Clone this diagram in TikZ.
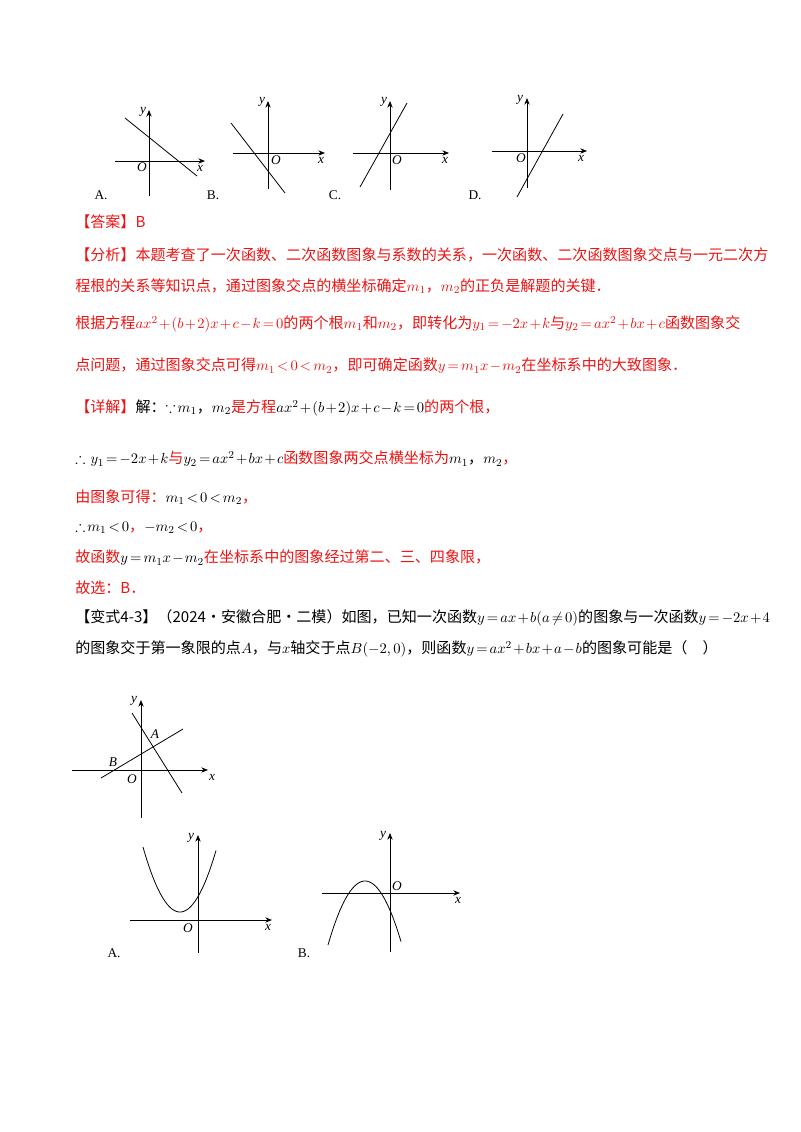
\documentclass[tikz,border=0pt]{standalone}
\usetikzlibrary{arrows.meta}
\usepackage{amssymb}
\usepackage{fontspec}
\setmainfont{Noto Sans CJK SC}
\newfontfamily\lat{Liberation Serif}
\definecolor{rd}{RGB}{235,20,20}
\newcommand{\K}[1]{{\color{black}#1}}
\medmuskip=1.5mu plus 1mu
\thickmuskip=2.5mu plus 1mu
\begin{document}
\begin{tikzpicture}[x=0.75pt,y=-0.75pt,
  ln/.style={anchor=west,inner sep=0,font=\fontsize{11.3}{14}\selectfont},
  rl/.style={ln,text=rd},
  ax/.style={line width=0.6pt,-{Stealth[length=5pt,width=4pt]}},
  cv/.style={line width=0.6pt},
  lb/.style={inner sep=0,font=\fontsize{10}{11}\selectfont\lat\itshape},
  ch/.style={inner sep=0,font=\fontsize{10}{12}\selectfont\lat}]
\useasboundingbox (0,0) rectangle (800,1132);
% top graphs
\foreach \n/\ox/\oy/\xa/\xb/\ya/\yb in {A/149/161/115/205/110/196,B/268/153/233/325/101/189,C/390/153/353/449/101/190,D/527/151/492/587/98/188}{
  \draw[ax] (\xa,\oy) -- (\xb,\oy);
  \draw[ax] (\ox,\yb) -- (\ox,\ya);
}
\draw[cv] (125,118) -- (197,176);
\draw[cv] (231,123) -- (285,193);
\draw[cv] (360,187) -- (407,103);
\draw[cv] (517,197) -- (563,114);
\node[lb] at (142,167) {O}; \node[lb] at (200,168) {x}; \node[lb] at (143,112) {y};
\node[lb] at (276,160) {O}; \node[lb] at (321,160) {x}; \node[lb] at (262,102) {y};
\node[lb] at (397,160) {O}; \node[lb] at (445,160) {x}; \node[lb] at (384,102) {y};
\node[lb] at (521,158) {O}; \node[lb] at (581,158) {x}; \node[lb] at (520,100) {y};
\node[ch] at (101,195) {A.}; \node[ch] at (213,195) {B.}; \node[ch] at (335,195) {C.}; \node[ch] at (475,195) {D.};
% text
\node[rl] at (75,222) {【答案】B};
\node[rl] at (75,255) {【分析】本题考查了一次函数、二次函数图象与系数的关系，一次函数、二次函数图象交点与一元二次方};
\node[rl] at (75,286) {程根的关系等知识点，通过图象交点的横坐标确定$m_1$，$m_2$的正负是解题的关键．};
\node[rl] at (75,324) {根据方程$ax^2+(b+2)x+c-k=0$的两个根$m_1$和$m_2$，即转化为$y_1=-2x+k$与$y_2=ax^2+bx+c$函数图象交};
\node[rl] at (75,366) {点问题，通过图象交点可得$m_1<0<m_2$，即可确定函数$y=m_1x-m_2$在坐标系中的大致图象．};
\node[rl] at (75,408) {【详解】\K{解：$\because m_1$，$m_2$}是方程\K{$ax^2+(b+2)x+c-k=0$}的两个根，};
\node[rl] at (75,459) {\K{$\therefore\ y_1=-2x+k$}与\K{$y_2=ax^2+bx+c$}函数图象两交点横坐标为\K{$m_1$，$m_2$}，};
\node[rl] at (75,497) {由图象可得：\K{$m_1<0<m_2$}，};
\node[rl] at (75,527) {\K{$\therefore m_1<0$}，\K{$-m_2<0$}，};
\node[rl] at (75,558) {故函数\K{$y=m_1x-m_2$}在坐标系中的图象经过第二、三、四象限，};
\node[rl] at (75,588) {故选：B．};
\node[ln] at (75,618) {【变式4-3】（2024·安徽合肥·二模）如图，已知一次函数$y=ax+b(a\neq0)$的图象与一次函数$y=-2x+4$};
\node[ln] at (75,649) {的图象交于第一象限的点$A$，与$x$轴交于点$B(-2,0)$，则函数$y=ax^2+bx+a-b$的图象可能是（\quad）};
% main figure
\draw[ax] (72,770) -- (208,770);
\draw[ax] (141,818) -- (141,700);
\draw[cv] (132,713) -- (182,793);
\draw[cv] (101,778) -- (183,729);
\node[lb] at (155,734) {A}; \node[lb] at (113,762) {B}; \node[lb] at (132,779) {O};
\node[lb] at (212,777) {x}; \node[lb] at (134,701) {y};
% option A
\draw[ax] (130,920) -- (272,920);
\draw[ax] (198,953) -- (198,835);
\draw[cv] plot[domain=143:216,samples=60] (\x,{912-65*((\x-180)/37)^2});
\node[lb] at (188,928) {O}; \node[lb] at (268,927) {x}; \node[lb] at (191,838) {y};
\node[ch] at (114,953) {A.};
% option B
\draw[ax] (322,893) -- (460,893);
\draw[ax] (390,952) -- (390,833);
\draw[cv] plot[domain=328:401,samples=60] (\x,{881+64*((\x-365)/37)^2});
\node[lb] at (397,886) {O}; \node[lb] at (458,900) {x}; \node[lb] at (383,836) {y};
\node[ch] at (304,953) {B.};
\end{tikzpicture}
\end{document}
